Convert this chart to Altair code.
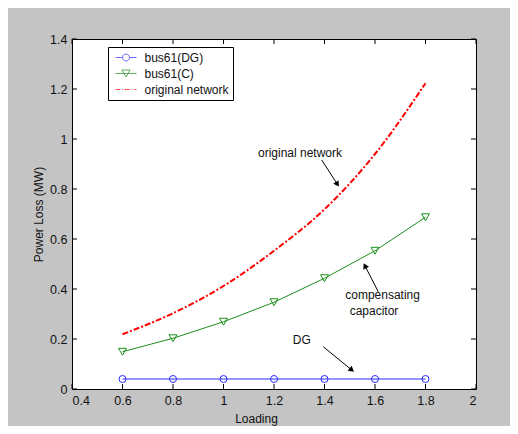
import math
import altair as alt
import pandas as pd

# ---------------- data ----------------
loading = [0.6, 0.8, 1.0, 1.2, 1.4, 1.6, 1.8]
loss_dg = [0.04, 0.04, 0.04, 0.04, 0.04, 0.04, 0.04]
loss_c = [0.149, 0.203, 0.269, 0.347, 0.443, 0.553, 0.687]
loss_orig = [0.219, 0.303, 0.412, 0.553, 0.719, 0.940, 1.223]
series = ["bus61(DG)", "bus61(C)", "original network"]

x_ticks = [0.4, 0.6, 0.8, 1.0, 1.2, 1.4, 1.6, 1.8, 2.0]
y_ticks = [0, 0.2, 0.4, 0.6, 0.8, 1.0, 1.2, 1.4]

note_text = ["original network", "compensating", "capacitor", "DG"]
note_x = [1.303, 1.630, 1.596, 1.310]
note_y = [0.943, 0.376, 0.312, 0.196]

arrow_x0 = [1.389, 1.613, 1.395]
arrow_y0 = [0.916, 0.389, 0.169]
arrow_x1 = [1.451, 1.560, 1.508]
arrow_y1 = [0.819, 0.493, 0.076]

# ---------------- styling ----------------
W, H = 404, 350
TICK = 5
colors = ["#2b2bff", "#1a8f1a", "#ff0000"]
FONT = "Liberation Sans"

rows = []
for name, vals in zip(series, [loss_dg, loss_c, loss_orig]):
    for xv, yv in zip(loading, vals):
        rows.append({"loading": xv, "loss": yv, "series": name})
df = pd.DataFrame(rows)

px_x = W / (x_ticks[-1] - x_ticks[0])
px_y = H / (y_ticks[-1] - y_ticks[0])
angles = []
for a, b, c, d in zip(arrow_x0, arrow_y0, arrow_x1, arrow_y1):
    dx = (c - a) * px_x
    dy = -(d - b) * px_y
    angles.append(math.degrees(math.atan2(dx, -dy)) % 360)
df_arrow = pd.DataFrame({"x0": arrow_x0, "y0": arrow_y0, "x1": arrow_x1,
                         "y1": arrow_y1, "angle": angles})
df_note = pd.DataFrame({"text": note_text, "x": note_x, "y": note_y})
df_leg = pd.DataFrame({"series": series})
df_xt = pd.DataFrame({"loading": x_ticks})
df_yt = pd.DataFrame({"loss": y_ticks})

xs = alt.Scale(domain=[x_ticks[0], x_ticks[-1]], nice=False, zero=False)
ys = alt.Scale(domain=[y_ticks[0], y_ticks[-1]], nice=False)


def label_axis(orient, title, **kw):
    return alt.Axis(orient=orient, values=x_ticks if orient == "bottom" else y_ticks,
                    format="~g", ticks=False, domain=False, grid=False,
                    labelPadding=TICK, labelFont=FONT, labelFontSize=12.5,
                    labelColor="#111", title=title, titleFont=FONT, titleFontSize=12,
                    titleFontWeight="normal", titleColor="#111", **kw)


def X(field):
    return alt.X(field, scale=xs)


def Y(field):
    return alt.Y(field, scale=ys)


base = alt.Chart(df)

lines_lin = base.transform_filter(
    alt.FieldOneOfPredicate(field="series", oneOf=series[:2])
).mark_line(strokeWidth=1).encode(
    x=alt.X("loading:Q", scale=xs,
            axis=label_axis("bottom", "Loading", titleX=184, titleY=33,
                            titleBaseline="alphabetic")),
    y=alt.Y("loss:Q", scale=ys, axis=label_axis("left", "Power Loss (MW)")),
    color=alt.Color("series:N", scale=alt.Scale(domain=series, range=colors), legend=None),
    detail="series:N",
)

line_orig = base.transform_filter(
    alt.FieldEqualPredicate(field="series", equal=series[2])
).mark_line(strokeWidth=2, strokeDash=[6, 2, 2, 2], interpolate="monotone",
            color=colors[2]).encode(
    x=X("loading:Q"),
    y=Y("loss:Q"),
)

points = base.transform_filter(
    alt.FieldOneOfPredicate(field="series", oneOf=series[:2])
).mark_point(filled=False, strokeWidth=1, opacity=1).encode(
    x=X("loading:Q"),
    y=Y("loss:Q"),
    shape=alt.Shape("series:N", scale=alt.Scale(domain=series[:2],
                                                 range=["circle", "triangle-down"]), legend=None),
    size=alt.Size("series:N", scale=alt.Scale(domain=series[:2], range=[49, 64]), legend=None),
    color=alt.Color("series:N", scale=alt.Scale(domain=series, range=colors), legend=None),
)

# inward ticks on all four sides (MATLAB box style)
tick_bottom = alt.Chart(df_xt).mark_rule(color="black", strokeWidth=1).encode(
    x=X("loading:Q"), y=alt.value(H), y2=alt.value(H - TICK))
tick_top = alt.Chart(df_xt).mark_rule(color="black", strokeWidth=1).encode(
    x=X("loading:Q"), y=alt.value(0), y2=alt.value(TICK))
tick_left = alt.Chart(df_yt).mark_rule(color="black", strokeWidth=1).encode(
    y=Y("loss:Q"), x=alt.value(0), x2=alt.value(TICK))
tick_right = alt.Chart(df_yt).mark_rule(color="black", strokeWidth=1).encode(
    y=Y("loss:Q"), x=alt.value(W), x2=alt.value(W - TICK))

arrow_lines = alt.Chart(df_arrow).mark_rule(color="black", strokeWidth=1).encode(
    x=X("x0:Q"), y=Y("y0:Q"),
    x2="x1:Q", y2="y1:Q",
)
arrow_heads = alt.Chart(df_arrow).mark_point(shape="triangle-up", filled=True,
                                             color="black", size=40, opacity=1).encode(
    x=X("x1:Q"), y=Y("y1:Q"),
    angle=alt.Angle("angle:Q", scale=None),
)

notes = alt.Chart(df_note).mark_text(font=FONT, fontSize=12, color="#111",
                                     align="center", baseline="middle").encode(
    x=X("x:Q"), y=Y("y:Q"), text="text:N",
)

# legend symbols: line + marker as SVG paths
sym_paths = [
    "M-1.75,0H-0.58M0.58,0H1.75M-0.58,0A0.58,0.58 0 1,1 0.58,0A0.58,0.58 0 1,1 -0.58,0Z",
    "M-1.75,0H1.75M-0.67,-0.58L0.67,-0.58L0,0.58Z",
    "M-1.75,0H-0.95M-0.65,0H-0.5M-0.2,0H0.6M0.9,0H1.05M1.35,0H1.75",
]
legend_layer = alt.Chart(df_leg).transform_filter("false").mark_point(filled=False).encode(
    x=X("loading:Q"),
    y=Y("loss:Q"),
    shape=alt.Shape("series:N", scale=alt.Scale(domain=series, range=sym_paths),
                    legend=alt.Legend(title=None, orient="none", legendX=36, legendY=8,
                                      strokeColor="black", fillColor="white", padding=4,
                                      symbolSize=144, symbolOffset=7.5, labelOffset=12,
                                      rowPadding=3, labelFont=FONT, labelFontSize=12,
                                      labelColor="#111", symbolStrokeWidth=1,
                                      cornerRadius=0)),
    color=alt.Color("series:N", scale=alt.Scale(domain=series, range=colors)),
    strokeWidth=alt.StrokeWidth("series:N", scale=alt.Scale(domain=series, range=[1, 1, 2])),
)

chart = alt.layer(
    lines_lin, line_orig, points, tick_bottom, tick_top, tick_left, tick_right,
    arrow_lines, arrow_heads, notes, legend_layer
).resolve_scale(
    color="independent", shape="independent", size="independent", strokeWidth="independent"
).properties(
    width=W, height=H,
    background="#c4c4c4",
    padding={"left": 64, "top": 31, "right": 34, "bottom": 37},
    autosize=alt.AutoSizeParams(type="none"),
).configure_view(stroke="black", strokeWidth=1, fill="white")

chart.save("out.html", embed_options={"renderer": "svg", "actions": False})
